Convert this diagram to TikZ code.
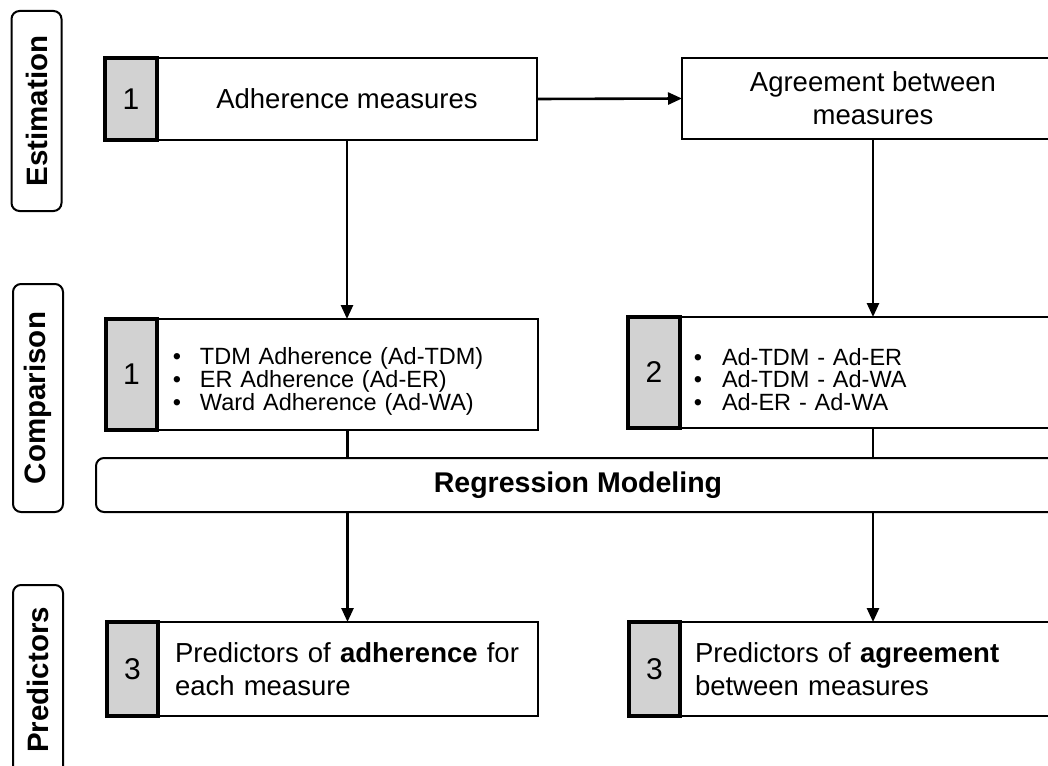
\documentclass[tikz,border=0pt]{standalone}
\usepackage{fontspec}
\setmainfont{Liberation Sans}
\usetikzlibrary{arrows.meta}
\newcommand\mybig{\fontsize{27.5}{33}\selectfont}
\newcommand\mysmall{\fontsize{23.5}{22.8}\selectfont}
\newcommand\mybul[1]{\makebox[12pt][c]{\textbullet}\hspace{#1}}
\begin{document}
\begin{tikzpicture}[x=1pt,y=-1pt,
  wbox/.style={draw, line width=2.2pt, fill=white, inner sep=0pt, outer sep=0pt},
  gbox/.style={draw, line width=3.4pt, fill=gray!35, inner sep=0pt, outer sep=0pt, font=\fontsize{30}{32}\selectfont},
  sidelab/.style={draw, line width=2pt, rounded corners=8pt, rotate=90, minimum height=50pt, inner sep=0pt, font=\fontsize{29.5}{32}\selectfont\bfseries},
  conn/.style={line width=2.6pt},
  arr/.style={conn, -{Triangle[length=14pt,width=12pt]}}]
\useasboundingbox (0,0) rectangle (1048,765);
\clip (0,0) rectangle (1048,765);
% side labels
\node[sidelab, minimum width=200pt] (lest) at (36.5,111) {Estimation};
\node[sidelab, minimum width=228pt] (lcmp) at (38,398) {Comparison};
\node[sidelab, minimum width=190pt] (lprd) at (38,680) {Predictors};
% row 1
\node[wbox, minimum width=380pt, minimum height=82pt, font=\mybig] (adh) at (347,99) {Adherence measures};
\node[gbox, minimum width=52pt, minimum height=82pt] (g1) at (131,99) {1};
\node[wbox, minimum width=382pt, minimum height=81pt, font=\mybig, align=center] (agr) at (873,98.5) {Agreement between\\measures};
% row 2
\node[wbox, minimum width=381pt, minimum height=111pt, font=\mysmall, align=left, text width=353pt, inner xsep=14pt] (comp1) at (347.5,374.5)
  {\rule{0pt}{31pt}\mybul{17pt}TDM Adherence (Ad-TDM)\\\mybul{17pt}ER Adherence (Ad-ER)\\\mybul{17pt}Ward Adherence (Ad-WA)};
\node[gbox, minimum width=51pt, minimum height=111pt] (cg1) at (131.5,374.5) {1};
\node[wbox, minimum width=386pt, minimum height=111pt, font=\mysmall, align=left, text width=362pt, inner xsep=12pt] (comp2) at (873,372.5)
  {\rule{0pt}{31pt}\mybul{18pt}Ad-TDM - Ad-ER\\\mybul{18pt}Ad-TDM - Ad-WA\\\mybul{18pt}Ad-ER - Ad-WA};
\node[gbox, minimum width=52pt, minimum height=111pt] (cg2) at (654,372.5) {2};
% regression
\node[draw, line width=2pt, rounded corners=8pt, fill=white, inner sep=0pt, outer sep=0pt, minimum width=964pt, minimum height=54pt, font=\fontsize{28.5}{32}\selectfont\bfseries] (reg) at (578,485) {Regression Modeling};
% row 3
\node[wbox, minimum width=380pt, minimum height=94pt, font=\mybig, align=left, text width=346pt, inner xsep=17pt] (pred1) at (348,669)
  {Predictors of \textbf{adherence} for\\each measure};
\node[gbox, minimum width=51pt, minimum height=94pt] (pg1) at (132.5,669) {3};
\node[wbox, minimum width=386pt, minimum height=94pt, font=\mybig, align=left, text width=356pt, inner xsep=15pt] (pred2) at (873,669)
  {Predictors of \textbf{agreement}\\between measures};
\node[gbox, minimum width=51pt, minimum height=94pt] (pg2) at (654.5,669) {3};
% connectors
\draw[arr] (adh.east) -- (agr.west);
\draw[arr] (adh.south) -- (adh.south |- comp1.north);
\draw[arr] (agr.south) -- (agr.south |- comp2.north);
\draw[conn] (comp1.south) -- (comp1.south |- reg.north);
\draw[conn] (comp2.south) -- (comp2.south |- reg.north);
\draw[arr] (reg.south -| comp1.south) -- (comp1.south |- pred1.north);
\draw[arr] (reg.south -| comp2.south) -- (comp2.south |- pred2.north);
\end{tikzpicture}
\end{document}
